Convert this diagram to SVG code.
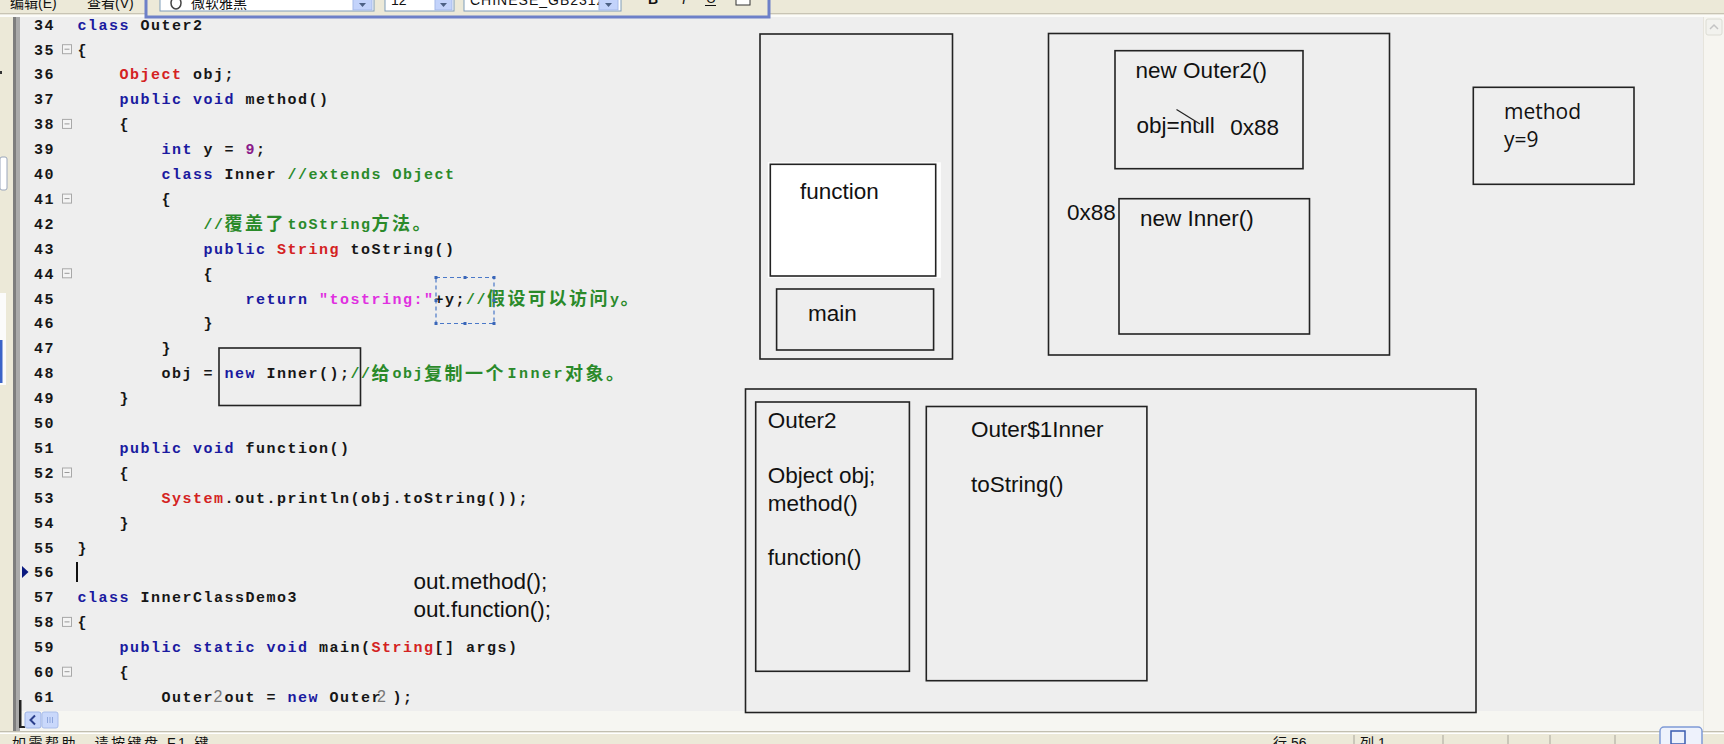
<svg xmlns="http://www.w3.org/2000/svg" width="1724" height="744" viewBox="0 0 1724 744">
<style>
.c{font-family:"Liberation Mono","DejaVu Sans Mono",monospace;font-size:15px;font-weight:bold;letter-spacing:1.5px;fill:#161616}
.k{fill:#1a1aa0}.r{fill:#d42222}.g{fill:#2a8a2a}.s{fill:#e030e0}.n{fill:#8a1a8a}
.cj{font-family:"Noto Sans CJK SC","Noto Sans CJK JP",sans-serif;font-size:18px;letter-spacing:2.5px;font-weight:bold}
.lb{font-family:"Liberation Sans",Arial,sans-serif;font-size:22.5px;fill:#111}
.lm{font-family:"Open Sans","Noto Sans",sans-serif;font-size:21px;fill:#111}
.box{fill:none;stroke:#222;stroke-width:1.6}
.fold{fill:#f4f4f4;stroke:#a8a8a8;stroke-width:1}
.ui{font-family:"Liberation Sans",Arial,"Noto Sans CJK SC",sans-serif;font-size:14px;fill:#111}
.cb{fill:#fff;stroke:#7f9db9;stroke-width:1}
.dd{fill:#c3d3fb;stroke:#a5b9e8;stroke-width:1}
.h{fill:#3a66b8}
</style>
<defs>
<g id="foldm"><rect class="fold" x="0" y="-4.5" width="9" height="9"/><line x1="2" y1="0" x2="7" y2="0" stroke="#9a9a9a" stroke-width="1"/></g>
</defs>
<!-- backgrounds -->
<rect x="0" y="0" width="1724" height="744" fill="#ece9d8"/>
<rect x="20" y="17" width="1684" height="694" fill="#eeeeee"/>
<!-- left strip -->
<rect x="13" y="17" width="3" height="714" fill="#7e7e7e"/>
<rect x="16" y="17" width="4" height="714" fill="#aaaaaa"/>
<rect x="0" y="157" width="7" height="33" rx="2" fill="#fff" stroke="#9aa6bb" stroke-width="1"/>
<rect x="0" y="293" width="6" height="92" fill="#fbfbfb"/>
<rect x="0" y="340" width="2.5" height="43" fill="#3c64c8"/>
<rect x="0" y="71" width="2" height="3" fill="#333"/>
<!-- menu line -->
<rect x="0" y="13" width="1724" height="1.5" fill="#c8c4b4"/>
<rect x="0" y="14.5" width="1724" height="2.5" fill="#fbfbf8"/>
<g id="menu">
<text class="ui" x="10" y="8" font-size="15">编辑(E)</text>
<text class="ui" x="87" y="8" font-size="15">查看(V)</text>
</g>
<!-- floating toolbar -->
<g id="toolbar">
<rect x="146" y="-3" width="623" height="20" fill="#ece9d8" stroke="#6d80c8" stroke-width="3"/>
<rect class="cb" x="160" y="-2" width="214" height="13"/>
<ellipse cx="176" cy="3" rx="5" ry="6" fill="none" stroke="#444" stroke-width="1.5"/>
<text class="ui" x="191" y="8" font-size="14">微软雅黑</text>
<rect class="dd" x="353" y="-2" width="19" height="12"/>
<path d="M359 3 L366 3 L362.5 7 Z" fill="#4d6185"/>
<rect class="cb" x="385" y="-2" width="69" height="13"/>
<text class="ui" x="391" y="5" font-size="13">12</text>
<rect class="dd" x="435" y="-2" width="17" height="12"/>
<path d="M440 3 L447 3 L443.5 7 Z" fill="#4d6185"/>
<rect class="cb" x="464" y="-2" width="157" height="13"/>
<text class="ui" x="470" y="5" font-size="13" letter-spacing="1">CHINESE_GB2312</text>
<rect class="dd" x="599" y="-2" width="19" height="12"/>
<path d="M605 3 L612 3 L608.5 7 Z" fill="#4d6185"/>
<text class="ui" x="648" y="4" font-weight="bold" font-size="14">B</text>
<text class="ui" x="682" y="4" font-style="italic" font-size="14">I</text>
<text class="ui" x="706" y="3" font-size="14">U</text>
<line x1="705" y1="5.5" x2="716" y2="5.5" stroke="#111" stroke-width="1"/>
<rect x="736" y="-2" width="14" height="7" fill="#fff" stroke="#333" stroke-width="1"/>
</g>
<!-- right scrollbar -->
<rect x="1703" y="17" width="21" height="714" fill="#f6f5f0"/>
<line x1="1703.5" y1="17" x2="1703.5" y2="731" stroke="#e6e4dc" stroke-width="1"/>
<rect x="1706" y="19" width="16" height="16" rx="2" fill="#f2f2ee" stroke="#dcdcd4" stroke-width="1"/>
<path d="M1710 29 L1714 25 L1718 29" fill="none" stroke="#c4c4c4" stroke-width="1.5"/>
<!-- bottom scrollbar & status -->
<rect x="20" y="711" width="1683" height="20" fill="#f6f6f2"/>
<rect x="19" y="700" width="2.5" height="28" fill="#222"/>
<rect x="19" y="726" width="6" height="2" fill="#222"/>
<rect x="25" y="712" width="16" height="16" rx="2" fill="#c7d6fa" stroke="#9db3e6" stroke-width="1"/>
<path d="M35 715.5 L30.5 720 L35 724.5" fill="none" stroke="#2b3f8c" stroke-width="2"/>
<rect x="42" y="712" width="16" height="16" rx="2" fill="#c9d8fb" stroke="#a9bdea" stroke-width="1"/>
<path d="M47.5 717 V723 M50 717 V723 M52.5 717 V723" stroke="#8ea6dc" stroke-width="1"/>
<rect x="0" y="731" width="1724" height="1.5" fill="#c2bfb0"/>
<rect x="0" y="732.5" width="1724" height="1.5" fill="#ffffff"/>
<g id="status">
<text class="ui" x="12" y="748" font-size="15" letter-spacing="2.5">如需帮助，请按键盘 F1 键</text>
<text class="ui" x="1273" y="748" font-size="15">行 56</text>
<text class="ui" x="1360" y="748" font-size="15">列 1</text>
<path d="M1354 735 V744 M1443 735 V744 M1508 735 V744 M1550 735 V744 M1615 735 V744" stroke="#a8a59a" stroke-width="1"/>
<rect x="1660" y="727" width="42" height="22" rx="4" fill="#eef2fc" stroke="#7f9ad6" stroke-width="1.5"/>
<rect x="1671" y="731" width="14" height="13" fill="none" stroke="#3a5cb0" stroke-width="1.5"/>
</g>
<!-- gutter: line numbers -->
<g id="gutter" class="c">
<text x="34" y="29.6">34</text><text x="34" y="54.5">35</text><text x="34" y="79.4">36</text>
<text x="34" y="104.3">37</text><text x="34" y="129.2">38</text><text x="34" y="154.1">39</text>
<text x="34" y="179">40</text><text x="34" y="203.9">41</text><text x="34" y="228.8">42</text>
<text x="34" y="253.7">43</text><text x="34" y="278.6">44</text><text x="34" y="303.5">45</text>
<text x="34" y="328.4">46</text><text x="34" y="353.3">47</text><text x="34" y="378.2">48</text>
<text x="34" y="403.1">49</text><text x="34" y="428">50</text><text x="34" y="452.9">51</text>
<text x="34" y="477.8">52</text><text x="34" y="502.7">53</text><text x="34" y="527.6">54</text>
<text x="34" y="552.5">55</text><text x="34" y="577.4">56</text><text x="34" y="602.3">57</text>
<text x="34" y="627.2">58</text><text x="34" y="652.1">59</text><text x="34" y="677">60</text>
<text x="34" y="701.9">61</text>
</g>
<g id="folds">
<use href="#foldm" x="62.5" y="49.2"/><use href="#foldm" x="62.5" y="123.9"/>
<use href="#foldm" x="62.5" y="198.6"/><use href="#foldm" x="62.5" y="273.3"/>
<use href="#foldm" x="62.5" y="472.5"/><use href="#foldm" x="62.5" y="621.9"/>
<use href="#foldm" x="62.5" y="671.7"/>
</g>
<path d="M22 566 L28.5 572 L22 578 Z" fill="#0a1a80"/>
<rect x="76" y="562" width="2" height="20" fill="#111"/>
<!-- code -->
<g id="code" class="c" xml:space="preserve">
<text x="77.5" y="29.6"><tspan class="k">class</tspan> Outer2</text>
<text x="77.5" y="54.5">{</text>
<text x="119.5" y="79.4"><tspan class="r">Object</tspan> obj;</text>
<text x="119.5" y="104.3"><tspan class="k">public void</tspan> method()</text>
<text x="119.5" y="129.2">{</text>
<text x="161.5" y="154.1"><tspan class="k">int</tspan> y = <tspan class="n">9</tspan>;</text>
<text x="161.5" y="179"><tspan class="k">class</tspan> Inner <tspan class="g">//extends Object</tspan></text>
<text x="161.5" y="203.9">{</text>
<text x="203.5" y="228.8" class="g"><tspan class="g">//</tspan><tspan class="cj g" x="224.5" y="230.3">覆盖了</tspan><tspan class="g" x="287.5" y="228.8">toString</tspan><tspan class="cj g" x="371.5" y="230.3">方法。</tspan></text>
<text x="203.5" y="253.7"><tspan class="k">public</tspan> <tspan class="r">String</tspan> toString()</text>
<text x="203.5" y="278.6">{</text>
<text x="245.5" y="303.5"><tspan class="k">return</tspan> <tspan class="s">"tostring:"</tspan>+y;<tspan class="g">//</tspan><tspan class="cj g" x="487" y="305">假设可以访问</tspan><tspan class="g" x="610" y="303.5">y</tspan><tspan class="cj g" x="620.5" y="305">。</tspan></text>
<text x="203.5" y="328.4">}</text>
<text x="161.5" y="353.3">}</text>
<text x="161.5" y="378.2">obj = <tspan class="k">new</tspan> Inner();<tspan class="g">//</tspan><tspan class="cj g" x="371.5" y="379.7">给</tspan><tspan class="g" x="392.5" y="378.2">obj</tspan><tspan class="cj g" x="424" y="379.7">复制一个</tspan><tspan class="g" x="507.5" y="378.2" letter-spacing="2.5">Inner</tspan><tspan class="cj g" x="565" y="379.7">对象。</tspan></text>
<text x="119.5" y="403.1">}</text>
<text x="119.5" y="452.9"><tspan class="k">public void</tspan> function()</text>
<text x="119.5" y="477.8">{</text>
<text x="161.5" y="502.7"><tspan class="r">System</tspan>.out.println(obj.toString());</text>
<text x="119.5" y="527.6">}</text>
<text x="77.5" y="552.5">}</text>
<text x="77.5" y="602.3"><tspan class="k">class</tspan> InnerClassDemo3</text>
<text x="77.5" y="627.2">{</text>
<text x="119.5" y="652.1"><tspan class="k">public static void</tspan> main(<tspan class="r">String</tspan>[] args)</text>
<text x="119.5" y="677">{</text>
<text x="161.5" y="701.9">Outer out = <tspan class="k">new</tspan> Outer );</text>
</g>
<g id="code-edits">
<text x="213.5" y="702" font-family="Liberation Sans,Arial,sans-serif" font-size="16" fill="#777">2</text>
<text x="377" y="702" font-family="Liberation Sans,Arial,sans-serif" font-size="16" fill="#777">2</text>
<rect class="box" x="219" y="348" width="141.5" height="57.5"/>
<g id="selection">
<rect x="436" y="277.5" width="58" height="46" fill="none" stroke="#4a78c8" stroke-width="1.2" stroke-dasharray="4 3"/>
<rect class="h" x="434.5" y="276" width="3" height="3"/><rect class="h" x="463.5" y="276" width="3" height="3"/><rect class="h" x="492.5" y="276" width="3" height="3"/>
<rect class="h" x="434.5" y="299" width="3" height="3"/><rect class="h" x="492.5" y="299" width="3" height="3"/>
<rect class="h" x="434.5" y="322" width="3" height="3"/><rect class="h" x="463.5" y="322" width="3" height="3"/><rect class="h" x="492.5" y="322" width="3" height="3"/>
</g>
</g>
<g id="calls">
<text class="lb" x="413.5" y="589">out.method();</text>
<text class="lb" x="413.5" y="616.5">out.function();</text>
</g>
<!-- stack -->
<g id="stack">
<rect class="box" x="760" y="34" width="192.5" height="325"/>
</g>
<g id="frame-function">
<rect x="767.8" y="162.3" width="173" height="115.5" fill="#fff"/>
<rect x="770.3" y="164.3" width="165.4" height="111.7" fill="#fff" stroke="#222" stroke-width="1.6"/>
<text class="lb" x="800" y="199">function</text>
</g>
<g id="frame-main">
<rect class="box" x="776.6" y="289" width="157" height="61"/>
<text class="lb" x="808" y="320.5">main</text>
</g>
<!-- heap -->
<g id="heap">
<rect class="box" x="1048.5" y="33.5" width="341" height="321.5"/>
<text class="lb" x="1067" y="220" font-size="21">0x88</text>
</g>
<g id="obj-outer2">
<rect class="box" x="1115" y="50.7" width="188" height="118"/>
<text class="lb" x="1135.6" y="78">new Outer2()</text>
<text class="lb" x="1136.5" y="133">obj=null</text>
<line x1="1176.5" y1="109.5" x2="1200" y2="124" stroke="#222" stroke-width="1.2"/>
<text class="lb" x="1230.3" y="134.5" font-size="21">0x88</text>
</g>
<g id="obj-inner">
<rect class="box" x="1119" y="198.7" width="190.5" height="135.3"/>
<text class="lb" x="1140" y="225.5">new Inner()</text>
</g>
<g id="frame-method">
<rect class="box" x="1473.3" y="87.3" width="160.7" height="97"/>
<text class="lm" x="1504" y="119">method</text>
<text class="lm" x="1504" y="146.5">y=9</text>
</g>
<!-- method area -->
<g id="method-area">
<rect class="box" x="745.5" y="389" width="730.5" height="323.5"/>
</g>
<g id="class-outer2">
<rect class="box" x="755.7" y="402" width="153.7" height="269.3"/>
<text class="lb" x="767.8" y="428">Outer2</text>
<text class="lb" x="767.8" y="483">Object obj;</text>
<text class="lb" x="767.8" y="510.5">method()</text>
<text class="lb" x="767.8" y="565">function()</text>
</g>
<g id="class-inner">
<rect class="box" x="926.3" y="406.5" width="220.6" height="274.2"/>
<text class="lb" x="971" y="436.7">Outer$1Inner</text>
<text class="lb" x="971" y="491.7">toString()</text>
</g>
<g id="connectors"></g>
</svg>
